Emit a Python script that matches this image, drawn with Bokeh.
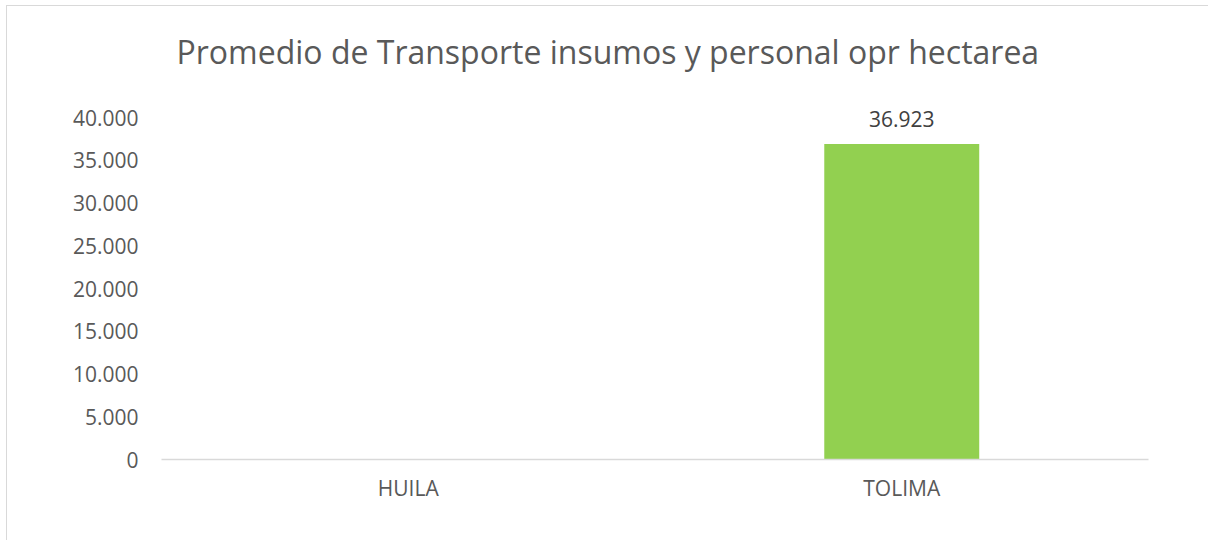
from bokeh.plotting import figure
from bokeh.models import ColumnDataSource, FactorRange, Range1d, FixedTicker, LabelSet
from bokeh.core.properties import value
from bokeh.embed import file_html
from bokeh.resources import INLINE

# ---- data ----
categories = ["HUILA", "TOLIMA"]
values = [float("nan"), 36923]
value_labels = ["", "36.923"]
y_ticks = [0, 5000, 10000, 15000, 20000, 25000, 30000, 35000, 40000]
y_tick_labels = ["0", "5.000", "10.000", "15.000", "20.000", "25.000", "30.000", "35.000", "40.000"]
title_text = "Promedio de Transporte insumos y personal opr hectarea"

FONT = "Open Sans"
GREY = "#595959"

src = ColumnDataSource(dict(cat=categories, val=values, lab=value_labels))

# canvas origin is at (7, 6) of the page (margin + 1px border)
p = figure(
    width=1202, height=535,
    x_range=FactorRange(*categories, range_padding=0),
    y_range=Range1d(0, 44000),
    output_backend="svg", toolbar_location=None,
    min_border_left=154, min_border_right=61,
    min_border_top=77, min_border_bottom=82,
)
p.styles = {"border-top": "1px solid #d9d9d9", "border-left": "1px solid #d9d9d9",
            "margin-left": "6px", "margin-top": "5px"}

p.title.text = title_text
p.title.text_font = FONT
p.title.text_font_size = "32px"
p.title.text_font_style = "normal"
p.title.text_color = GREY
p.title.align = "left"
p.title.offset = 15
p.title.standoff = 21

p.vbar(x="cat", top="val", width=0.314, source=src, color="#92D050", line_color=None)

labels = LabelSet(x="cat", y="val", text="lab", source=src, text_align="center",
                  text_baseline="alphabetic", y_offset=17, text_font=value(FONT),
                  text_font_size=value("21px"), text_color="#404040")
p.add_layout(labels)

p.xgrid.visible = False
p.ygrid.visible = False
p.outline_line_color = None

p.yaxis.ticker = FixedTicker(ticks=y_ticks)
p.yaxis.major_label_overrides = {t: l for t, l in zip(y_ticks, y_tick_labels)}
p.yaxis.axis_line_color = None
p.yaxis.major_tick_line_color = None
p.yaxis.minor_tick_line_color = None
p.yaxis.major_label_standoff = 17

p.xaxis.axis_line_color = "#d9d9d9"
p.xaxis.axis_line_width = 1.3
p.xaxis.major_tick_line_color = None
p.xaxis.minor_tick_line_color = None
p.xaxis.major_label_standoff = 8

for ax in (p.xaxis, p.yaxis):
    ax.major_label_text_font = FONT
    ax.major_label_text_font_size = "21px"
    ax.major_label_text_color = GREY

open("out.html", "w").write(file_html(p, INLINE))
